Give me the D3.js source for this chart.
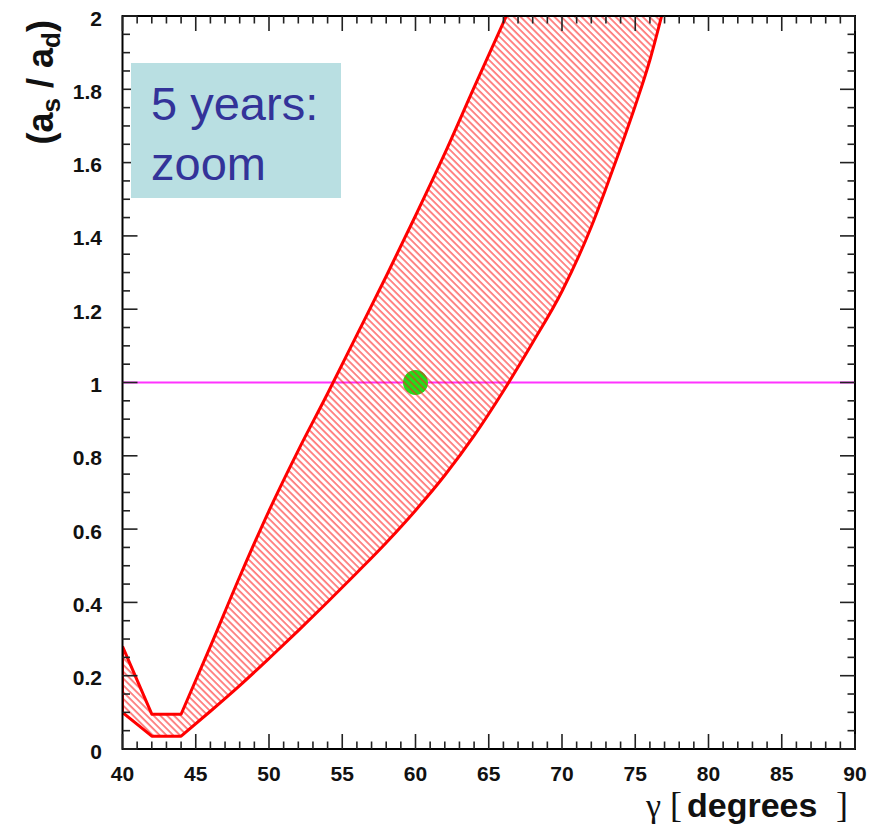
<!DOCTYPE html>
<html>
<head>
<meta charset="utf-8">
<script src="https://cdn.jsdelivr.net/npm/d3@7"></script>
<style>
  html, body { margin: 0; padding: 0; background: #ffffff; }
  svg { display: block; }
</style>
</head>
<body>
<svg id="chart" width="881" height="832"></svg>
<script>
// Axis ticks
const gammaTicks = [40, 45, 50, 55, 60, 65, 70, 75, 80, 85, 90];
const ratioTicks = [0, 0.2, 0.4, 0.6, 0.8, 1, 1.2, 1.4, 1.6, 1.8, 2];

// Allowed region: left (upper) boundary of the band
const upperGamma = [40, 42, 44, 46, 48, 50, 52, 54, 56, 58, 60, 62, 64, 66.2];
const upperRatio = [0.28, 0.095, 0.095, 0.28, 0.47, 0.65, 0.815, 0.97, 1.13, 1.29, 1.455, 1.625, 1.805, 2.0];

// Allowed region: right (lower) boundary of the band
const lowerGamma = [40, 42, 44, 46, 48, 50, 52, 54, 56, 58, 60, 62, 64, 66, 68, 70, 72, 73, 74, 75, 76, 76.8];
const lowerRatio = [0.10, 0.035, 0.035, 0.103, 0.173, 0.247, 0.323, 0.401, 0.481, 0.563, 0.651, 0.747, 0.855, 0.977, 1.109, 1.249, 1.425, 1.53, 1.64, 1.755, 1.88, 2.0];

// Central value and reference ratio
const bestGamma = [60];
const bestRatio = [1.0];
const refRatio = [1.0];

const svg = d3.select("#chart");
const plotLeft = 122.5, plotRight = 855, plotTop = 16, plotBottom = 749;

const x = d3.scaleLinear().domain([40, 90]).range([plotLeft, plotRight]);
const y = d3.scaleLinear().domain([0, 2]).range([plotBottom, plotTop]);

// Boundary path: straight segments along the flat floor, smooth curve once it rises
const straight = d3.line().x(d => x(d[0])).y(d => y(d[1]));
const smooth = d3.line().x(d => x(d[0])).y(d => y(d[1])).curve(d3.curveMonotoneX);
function boundary(pts) {
  return straight(pts.slice(0, 3)) + smooth(pts.slice(2)).replace(/^M/, "L");
}

const upperPts = upperGamma.map((g, i) => [g, upperRatio[i]]);
const lowerPts = lowerGamma.map((g, i) => [g, lowerRatio[i]]);
const upperD = boundary(upperPts);
const lowerD = boundary(lowerPts);

const defs = svg.append("defs");
defs.append("clipPath").attr("id", "plotClip")
  .append("rect").attr("x", plotLeft).attr("y", plotTop)
  .attr("width", plotRight - plotLeft).attr("height", plotBottom - plotTop);

// Region below / right of the upper boundary
defs.append("clipPath").attr("id", "belowUpper")
  .append("path")
  .attr("d", upperD + `L${x(90)},${y(2)}L${x(90)},${y(0)}L${x(40)},${y(0)}Z`);
// Region above / left of the lower boundary
defs.append("clipPath").attr("id", "aboveLower")
  .append("path")
  .attr("d", lowerD + `L${x(40)},${y(2)}Z`);

const pat = defs.append("pattern")
  .attr("id", "hatch")
  .attr("patternUnits", "userSpaceOnUse")
  .attr("width", 4.8).attr("height", 10)
  .attr("patternTransform", "rotate(-45)");
pat.append("line")
  .attr("x1", 1).attr("y1", 0).attr("x2", 1).attr("y2", 10)
  .attr("stroke", "#ff1a1a").attr("stroke-width", 1.05);

const plot = svg.append("g").attr("clip-path", "url(#plotClip)");

// Reference line at ratio = 1
plot.selectAll("line.ref").data(refRatio).enter().append("line")
  .attr("class", "ref")
  .attr("x1", plotLeft).attr("x2", plotRight)
  .attr("y1", d => y(d)).attr("y2", d => y(d))
  .attr("stroke", "#ff33ff").attr("stroke-width", 2);

// Central value
plot.selectAll("circle.best").data(bestGamma).enter().append("circle")
  .attr("class", "best")
  .attr("cx", d => x(d)).attr("cy", (d, i) => y(bestRatio[i]))
  .attr("r", 12.5)
  .attr("fill", "#1ee01e");

// Hatched band
plot.append("g").attr("clip-path", "url(#belowUpper)")
  .append("g").attr("clip-path", "url(#aboveLower)")
  .append("rect")
  .attr("x", plotLeft).attr("y", plotTop)
  .attr("width", plotRight - plotLeft).attr("height", plotBottom - plotTop)
  .attr("fill", "url(#hatch)");

// Band outline
const outlineG = plot.append("g")
  .attr("fill", "none").attr("stroke", "#ff0000")
  .attr("stroke-width", 3).attr("stroke-linejoin", "round");
outlineG.append("path").attr("d", upperD);
outlineG.append("path").attr("d", lowerD);
outlineG.append("line")
  .attr("x1", x(40)).attr("x2", x(40))
  .attr("y1", y(upperRatio[0])).attr("y2", y(lowerRatio[0]));

// Frame and ticks
const axisCol = "#222";
svg.append("rect")
  .attr("x", plotLeft).attr("y", plotTop)
  .attr("width", plotRight - plotLeft).attr("height", plotBottom - plotTop)
  .attr("fill", "none").attr("stroke", "#000").attr("stroke-width", 2);

const tickG = svg.append("g").attr("stroke", axisCol).attr("stroke-width", 1.6);
const minorX = d3.range(40, 90.001, 1);
minorX.forEach(v => {
  const major = Math.abs(v % 5) < 1e-6;
  const len = major ? 15 : 7.5;
  tickG.append("line").attr("x1", x(v)).attr("x2", x(v)).attr("y1", plotBottom).attr("y2", plotBottom - len);
  tickG.append("line").attr("x1", x(v)).attr("x2", x(v)).attr("y1", plotTop).attr("y2", plotTop + len);
});
const minorY = d3.range(0, 2.0001, 0.05);
minorY.forEach(v => {
  const major = Math.abs(Math.round(v * 100) % 20) < 1e-6;
  const len = major ? 15 : 7.5;
  tickG.append("line").attr("y1", y(v)).attr("y2", y(v)).attr("x1", plotLeft).attr("x2", plotLeft + len);
  tickG.append("line").attr("y1", y(v)).attr("y2", y(v)).attr("x1", plotRight).attr("x2", plotRight - len);
});

// Tick labels
const font = "Liberation Sans, Arial, Helvetica, sans-serif";
svg.append("g").selectAll("text").data(gammaTicks).enter().append("text")
  .attr("x", d => x(d)).attr("y", 781)
  .attr("text-anchor", "middle")
  .attr("font-family", font).attr("font-weight", "bold").attr("font-size", 21)
  .attr("fill", "#111")
  .text(d => d);

svg.append("g").selectAll("text").data(ratioTicks).enter().append("text")
  .attr("x", 102).attr("y", d => y(d) + 9.5)
  .attr("text-anchor", "end")
  .attr("font-family", font).attr("font-weight", "bold").attr("font-size", 21)
  .attr("fill", "#111")
  .text(d => d3.format("~g")(d));

// Y axis title
const yt = svg.append("text")
  .attr("transform", "translate(53,20) rotate(-90)")
  .attr("text-anchor", "end")
  .attr("font-family", font).attr("font-weight", "bold").attr("font-size", 36)
  .attr("fill", "#111");
yt.append("tspan").text("(a");
yt.append("tspan").attr("font-size", 26).attr("dy", 7).text("s");
yt.append("tspan").attr("dy", -7).text(" / a");
yt.append("tspan").attr("font-size", 26).attr("dy", 7).text("d");
yt.append("tspan").attr("dy", -7).text(")");

// X axis title
const serif = "Liberation Serif, Times New Roman, serif";
svg.append("text").attr("x", 646).attr("y", 817)
  .attr("font-family", serif).attr("font-size", 34).attr("fill", "#111").text("γ");
svg.append("text").attr("x", 670).attr("y", 817)
  .attr("font-family", serif).attr("font-size", 36).attr("fill", "#111").text("[");
svg.append("text").attr("x", 687).attr("y", 817)
  .attr("font-family", font).attr("font-weight", "bold").attr("font-size", 34)
  .attr("fill", "#111").text("degrees");
svg.append("text").attr("x", 836).attr("y", 817)
  .attr("font-family", serif).attr("font-size", 36).attr("fill", "#111").text("]");

// Label box
svg.append("rect")
  .attr("x", 131).attr("y", 63).attr("width", 210).attr("height", 135)
  .attr("fill", "#b9dfe2");
const lbl = svg.append("text")
  .attr("font-family", font).attr("font-size", 47).attr("fill", "#333399");
lbl.append("tspan").attr("x", 151).attr("y", 120).text("5 years:");
lbl.append("tspan").attr("x", 151).attr("y", 180).text("zoom");
</script>
</body>
</html>
